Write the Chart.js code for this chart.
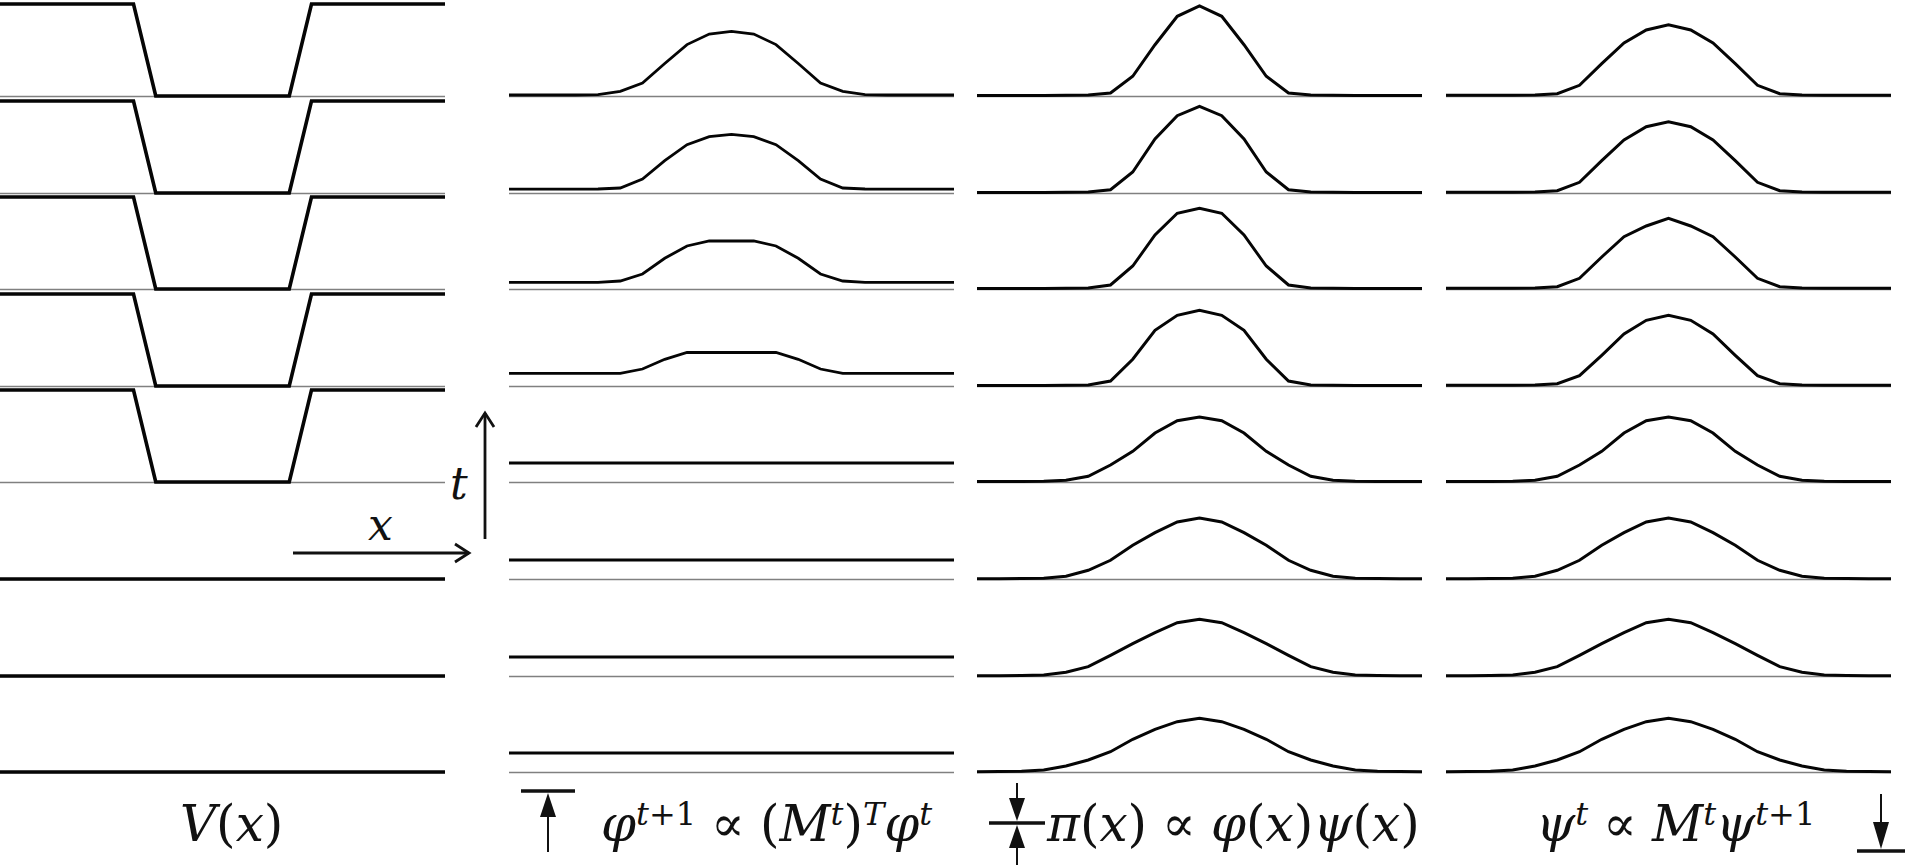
<!DOCTYPE html>
<html>
<head>
<meta charset="utf-8">
<script src="https://cdn.jsdelivr.net/npm/chart.js@4.4.1/dist/chart.umd.min.js"></script>
<style>
  html, body { margin: 0; padding: 0; background: #fff; overflow: hidden; }
  #stage { position: relative; width: 1909px; height: 865px; }
  #stage canvas { position: absolute; }
  .lbl {
    position: absolute; top: 796px; white-space: nowrap;
    font-family: "DejaVu Serif", serif; font-size: 50px; line-height: 56px; color: #111;
  }
  .lbl sup { font-size: 0.64em; position: relative; top: -0.5em; vertical-align: baseline; line-height: 0; }
  .rel { margin: 0 0.3em; font-style: normal; }
  .ax { position: absolute; font-family: "DejaVu Serif", serif; font-style: italic; font-size: 44px; color: #111; line-height: 44px; }
  svg { position: absolute; left: 0; top: 0; }
</style>
</head>
<body>
<div id="stage">
  <div class="lbl" style="left:180px"><i>V</i>(<i>x</i>)</div>
  <div class="lbl" style="left:601px"><i>φ</i><sup><i>t</i>+1</sup><span class="rel">∝</span>(<i>M</i><sup><i>t</i></sup>)<sup><i>T</i></sup><i>φ</i><sup><i>t</i></sup></div>
  <div class="lbl" style="left:1047px"><i>π</i>(<i>x</i>)<span class="rel">∝</span><i>φ</i>(<i>x</i>)<i>ψ</i>(<i>x</i>)</div>
  <div class="lbl" style="left:1536px"><i>ψ</i><sup><i>t</i></sup><span class="rel">∝</span><i>M</i><sup><i>t</i></sup><i>ψ</i><sup><i>t</i>+1</sup></div>
  <div class="ax" style="left:450px; top:462px">t</div>
  <div class="ax" style="left:368px; top:503px">x</div>
  <svg width="1909" height="865">
    <g stroke="#111" stroke-width="2.8" fill="none">
      <line x1="485" y1="539" x2="485" y2="413"/>
      <polyline points="476,427 485,413 494,427"/>
      <line x1="293" y1="553" x2="469" y2="553"/>
      <polyline points="455,544 469,553 455,562"/>
    </g>
    <g stroke="#111" fill="#111">
      <line x1="521" y1="791" x2="575" y2="791" stroke-width="3.5"/>
      <line x1="548" y1="852" x2="548" y2="810" stroke-width="2"/>
      <polygon points="548,793 540,817 556,817" stroke="none"/>
      <line x1="989" y1="823" x2="1045" y2="823" stroke-width="3.5"/>
      <line x1="1017" y1="783" x2="1017" y2="805" stroke-width="2"/>
      <polygon points="1017,821 1009,798 1025,798" stroke="none"/>
      <line x1="1017" y1="865" x2="1017" y2="842" stroke-width="2"/>
      <polygon points="1017,825 1009,848 1025,848" stroke="none"/>
      <line x1="1857" y1="851" x2="1905" y2="851" stroke-width="3.5"/>
      <line x1="1881" y1="794" x2="1881" y2="830" stroke-width="2"/>
      <polygon points="1881,849 1873,822 1889,822" stroke="none"/>
    </g>
  </svg>
</div>
<script>
// grid positions x = 0..20
const xs = [0,1,2,3,4,5,6,7,8,9,10,11,12,13,14,15,16,17,18,19,20];

// V(x): well for the first five time slices, flat afterwards
const vWell = [92,92,92,92,92,92,92,0,0,0,0,0,0,0,92,92,92,92,92,92,92];
const vFlat = [0,0,0,0,0,0,0,0,0,0,0,0,0,0,0,0,0,0,0,0,0];
const potRows = [vWell, vWell, vWell, vWell, vWell, vFlat, vFlat, vFlat];

// forward message phi, rows top to bottom
const phiRows = [
  [1,1,1,1,1.3,4.7,13,32.5,51.4,62,64.7,62,51.4,32.5,13,4.7,1.4,1,1,1,1],
  [3.8,3.8,3.8,3.8,4,5,14,32.3,48.3,56.3,58.7,56.3,48.3,32.3,14,5,4,3.8,3.8,3.8,3.8],
  [6.7,6.7,6.7,6.7,6.7,8,15,30.7,43,48,48,48,43,30.7,15,8,6.7,6.7,6.7,6.7,6.7],
  [12.7,12.7,12.7,12.7,12.7,12.7,17,26.7,33.5,33.5,33.5,33.5,33.5,26.7,17,12.7,12.7,12.7,12.7,12.7,12.7],
  [19,19,19,19,19,19,19,19,19,19,19,19,19,19,19,19,19,19,19,19,19],
  [19,19,19,19,19,19,19,19,19,19,19,19,19,19,19,19,19,19,19,19,19],
  [19,19,19,19,19,19,19,19,19,19,19,19,19,19,19,19,19,19,19,19,19],
  [19,19,19,19,19,19,19,19,19,19,19,19,19,19,19,19,19,19,19,19,19]
];

// marginal pi
const piRows = [
  [0.5,0.5,0.5,0.5,0.7,1,3,19.7,51.3,79.7,90,79.7,51.3,19.7,3,1,0.7,0.5,0.5,0.5,0.5],
  [0.5,0.5,0.5,0.5,0.7,1,3.3,21,54,77.3,86.7,77.3,54,21,3.3,1,0.7,0.5,0.5,0.5,0.5],
  [0.5,0.5,0.5,0.5,0.7,1,4,23,54,75.7,80.7,75.7,54,23,4,1,0.7,0.5,0.5,0.5,0.5],
  [0.5,0.5,0.5,0.5,0.7,1,5,26.8,55.7,70.7,75.7,70.7,55.7,26.8,5,1,0.7,0.5,0.5,0.5,0.5],
  [0.5,0.5,0.5,0.7,1.7,5.7,17,30.7,49,61.3,65,61.3,49,30.7,17,5.7,1.7,0.7,0.5,0.5,0.5],
  [0.3,0.3,0.4,0.8,2.7,8.7,18.7,33.7,46.3,57,61,57,46.3,33.7,18.7,8.7,2.7,0.8,0.4,0.3,0.3],
  [0.3,0.3,0.5,1,3.7,9.3,20.7,32.3,43.3,53.3,56.7,53.3,43.3,32.3,20.7,9.3,3.7,1,0.5,0.3,0.3],
  [0.3,0.5,0.8,2,6,12,20.3,32.7,42.7,50.3,53.7,50.3,42.7,32.7,20.3,12,6,2,0.8,0.5,0.3]
];

// backward message psi
const psiRows = [
  [0.7,0.7,0.7,0.7,1,2.3,10.7,32.3,53,66,71.3,66,53,32.3,10.7,2.3,1,0.7,0.7,0.7,0.7],
  [0.7,0.7,0.7,0.7,1,2.3,10.7,32.3,53,66.3,71.3,66.3,53,32.3,10.7,2.3,1,0.7,0.7,0.7,0.7],
  [0.7,0.7,0.7,0.7,1,2.3,10.7,32,52.3,63,70.7,63,52.3,32,10.7,2.3,1,0.7,0.7,0.7,0.7],
  [0.7,0.7,0.7,0.7,1,2.3,10.3,30.7,52,65.7,70.7,65.7,52,30.7,10.3,2.3,1,0.7,0.7,0.7,0.7],
  [0.5,0.5,0.5,0.7,1.7,5.7,17,30.7,49,61.3,65,61.3,49,30.7,17,5.7,1.7,0.7,0.5,0.5,0.5],
  [0.3,0.3,0.4,0.8,2.7,8.7,18.7,33.7,46.3,57,61,57,46.3,33.7,18.7,8.7,2.7,0.8,0.4,0.3,0.3],
  [0.3,0.3,0.5,1,3.7,9.3,20.7,32.3,43.3,53.3,56.7,53.3,43.3,32.3,20.7,9.3,3.7,1,0.5,0.3,0.3],
  [0.3,0.5,0.8,2,6,12,20.3,32.7,42.7,50.3,53.7,50.3,42.7,32.7,20.3,12,6,2,0.8,0.5,0.3]
];

const columns = [
  { rows: potRows, left: 0,    width: 3.6 },
  { rows: phiRows, left: 509,  width: 2.8 },
  { rows: piRows,  left: 977,  width: 3 },
  { rows: psiRows, left: 1446, width: 3 }
];
const colWidth = 445;
const firstBase = 96;
const rowStep = 96.6;
const yMax = 92;

// thin grey zero line under each curve
const baseLine = {
  id: 'baseLine',
  beforeDatasetsDraw(chart) {
    const { ctx, chartArea, scales } = chart;
    const y = Math.round(scales.y.getPixelForValue(0)) + 0.5;
    ctx.save();
    ctx.strokeStyle = '#808080';
    ctx.lineWidth = 1.3;
    ctx.beginPath();
    ctx.moveTo(chartArea.left, y);
    ctx.lineTo(chartArea.right, y);
    ctx.stroke();
    ctx.restore();
  }
};

const stage = document.getElementById('stage');
columns.forEach(col => {
  col.rows.forEach((vals, r) => {
    const base = Math.round(firstBase + r * rowStep);
    const cv = document.createElement('canvas');
    cv.width = colWidth;
    cv.height = 100;
    cv.style.left = col.left + 'px';
    cv.style.top = (base - 96) + 'px';
    stage.appendChild(cv);
    new Chart(cv, {
      type: 'line',
      data: {
        labels: xs,
        datasets: [{
          data: vals,
          borderColor: '#050505',
          borderWidth: col.width,
          pointRadius: 0,
          tension: 0,
          clip: false
        }]
      },
      options: {
        responsive: false,
        animation: false,
        events: [],
        layout: { padding: { top: 4, bottom: 4, left: 0, right: 0 } },
        plugins: { legend: { display: false }, tooltip: { enabled: false } },
        scales: {
          x: { display: false, offset: false },
          y: { display: false, min: 0, max: yMax }
        }
      },
      plugins: [baseLine]
    });
  });
});
</script>
</body>
</html>
